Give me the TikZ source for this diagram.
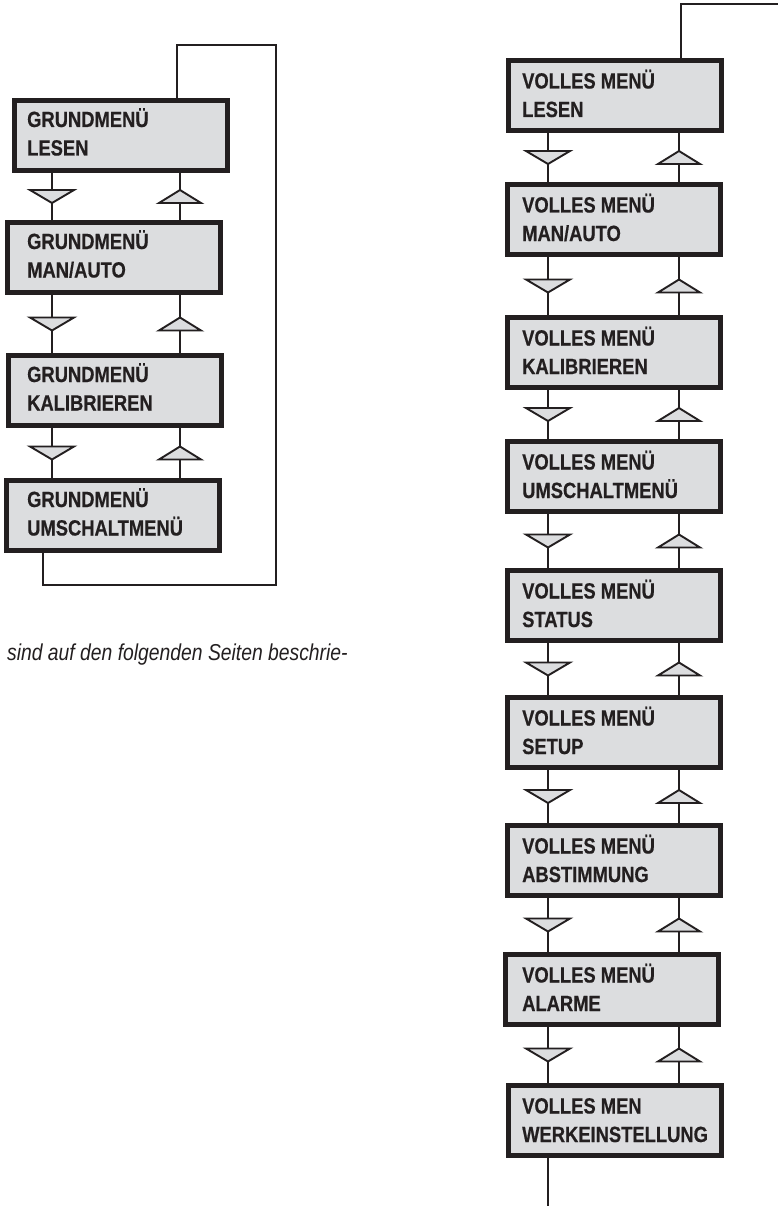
\documentclass[tikz,border=0pt]{standalone}
\usepackage{fontspec}
\setmainfont{Liberation Sans}[FakeStretch=0.835, BoldFeatures={FakeBold=0.5}]
\newfontfamily\notefont{Liberation Sans}[FakeStretch=0.84]
\usetikzlibrary{calc}
\definecolor{boxgray}{RGB}{220,221,223}
\definecolor{ink}{RGB}{35,31,32}
\newcommand\menulink[4]{%
  \draw[conn] (#1.south -| #3) -- coordinate[midway] (#1#2d) (#2.north -| #3);
  \draw[conn] (#1.south -| #4) -- coordinate[midway] (#1#2u) (#2.north -| #4);
  \pic at (#1#2d) {dtri};
  \pic at (#1#2u) {utri};}
\begin{document}
\begin{tikzpicture}[x=1pt,y=-1pt,
  box/.style={draw=ink, line width=5pt, fill=boxgray, minimum width=213pt, minimum height=70pt, inner sep=0pt, anchor=north west},
  lbl/.style={anchor=base west, align=left, inner sep=0pt, text=ink, font=\fontsize{22}{28.5}\selectfont\bfseries},
  conn/.style={draw=ink, line width=2.6pt},
  loopline/.style={draw=ink, line width=2.3pt},
  tri/.style={draw=ink, fill=boxgray, line width=1.9pt, line join=miter},
  dtri/.pic={\path[tri] (-22,-6.5) -- (22,-6.5) -- (0,6.5) -- cycle;},
  utri/.pic={\path[tri] (-21,6.5) -- (21,6.5) -- (0,-6.5) -- cycle;},
  note/.style={anchor=base west, inner sep=0pt, text=ink, font=\notefont\fontsize{23}{28}\selectfont\itshape}]
\useasboundingbox (0,0) rectangle (778,1206);
% column x positions
\coordinate (dL) at (52,0);
\coordinate (uL) at (180,0);
\coordinate (dR) at (548,0);
\coordinate (uR) at (679,0);
% left column
\node[box] (L1) at (12,98) {};
\node[box] (L2) at (5,220) {};
\node[box] (L3) at (6,353) {};
\node[box] (L4) at (4,478) {};
\node[lbl] (L1t) at ($(L1.north west)+(15,57.5)$) {GRUNDMENÜ\\LESEN};
\node[lbl] (L2t) at ($(L2.north west)+(22,57.5)$) {GRUNDMENÜ\\MAN/AUTO};
\node[lbl] (L3t) at ($(L3.north west)+(21,57.5)$) {GRUNDMENÜ\\KALIBRIEREN};
\node[lbl] (L4t) at ($(L4.north west)+(23,57.5)$) {GRUNDMENÜ\\UMSCHALTMENÜ};
\menulink{L1}{L2}{dL}{uL}
\menulink{L2}{L3}{dL}{uL}
\menulink{L3}{L4}{dL}{uL}
\coordinate (ltl) at (177,45);
\coordinate (ltr) at (276,45);
\coordinate (lbr) at (276,585);
\coordinate (lbl) at (43,585);
\draw[loopline] (L1.north -| ltl) -- (ltl) -- (ltr) -- (lbr) -- (lbl) -- (L4.south -| lbl);
% right column
\node[box] (R1) at (506,58) {};
\node[box] (R2) at (505,182) {};
\node[box] (R3) at (505,315) {};
\node[box] (R4) at (505,439) {};
\node[box] (R5) at (505,568) {};
\node[box] (R6) at (505,695) {};
\node[box] (R7) at (505,823) {};
\node[box] (R8) at (503,952) {};
\node[box] (R9) at (506,1083) {};
\node[lbl] (R1t) at ($(R1.north west)+(16,59)$) {VOLLES MENÜ\\LESEN};
\node[lbl] (R2t) at ($(R2.north west)+(17,59)$) {VOLLES MENÜ\\MAN/AUTO};
\node[lbl] (R3t) at ($(R3.north west)+(17,59)$) {VOLLES MENÜ\\KALIBRIEREN};
\node[lbl] (R4t) at ($(R4.north west)+(17,59)$) {VOLLES MENÜ\\UMSCHALTMENÜ};
\node[lbl] (R5t) at ($(R5.north west)+(17,59)$) {VOLLES MENÜ\\STATUS};
\node[lbl] (R6t) at ($(R6.north west)+(17,59)$) {VOLLES MENÜ\\SETUP};
\node[lbl] (R7t) at ($(R7.north west)+(17,59)$) {VOLLES MENÜ\\ABSTIMMUNG};
\node[lbl] (R8t) at ($(R8.north west)+(19,59)$) {VOLLES MENÜ\\ALARME};
\node[lbl] (R9t) at ($(R9.north west)+(16,59)$) {VOLLES MEN\\WERKEINSTELLUNG};
\menulink{R1}{R2}{dR}{uR}
\menulink{R2}{R3}{dR}{uR}
\menulink{R3}{R4}{dR}{uR}
\menulink{R4}{R5}{dR}{uR}
\menulink{R5}{R6}{dR}{uR}
\menulink{R6}{R7}{dR}{uR}
\menulink{R7}{R8}{dR}{uR}
\menulink{R8}{R9}{dR}{uR}
\coordinate (rtl) at (681,4);
\coordinate (rtr) at (778,4);
\coordinate (rbot) at (548,1206);
\draw[loopline] (R1.north -| rtl) -- (rtl) -- (rtr);
\draw[loopline] (R9.south -| rbot) -- (rbot);
% note
\node[note] (note) at (7,660) {sind auf den folgenden Seiten beschrie-};
\end{tikzpicture}
\end{document}
